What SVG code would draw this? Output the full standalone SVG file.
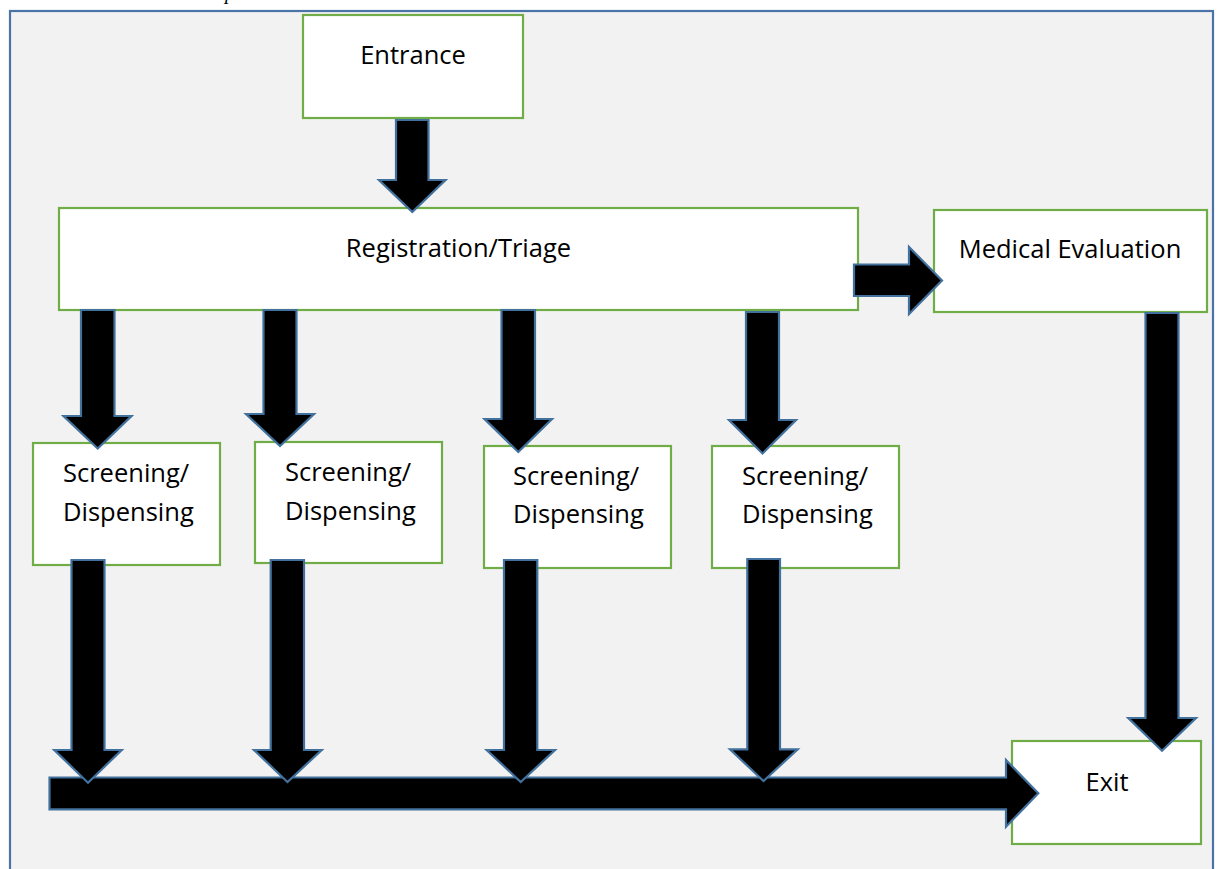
<svg xmlns="http://www.w3.org/2000/svg" width="1219" height="869" viewBox="0 0 1219 869">
<style>
.box{fill:#ffffff;stroke:#70ad47;stroke-width:2.2}
.lbl{font-family:"Open Sans","Noto Sans","DejaVu Sans",sans-serif;font-size:25.5px;fill:#000000}
.c{text-anchor:middle}
.arr{fill:#000000;stroke:#41719c;stroke-width:2.2;stroke-linejoin:miter}
</style>
<rect width="1219" height="869" fill="#ffffff"/>
<text x="225" y="-1" font-family="Liberation Serif, serif" font-style="italic" font-size="20" fill="#000">p</text>
<rect x="10" y="11" width="1203" height="880" fill="#f2f2f2" stroke="#4a74a8" stroke-width="2.2"/>

<g id="entrance">
<rect class="box" x="303" y="15" width="220" height="103"/>
<text class="lbl c" x="413" y="64">Entrance</text>
</g>
<g id="registration">
<rect class="box" x="59" y="208" width="799" height="102"/>
<text class="lbl c" x="458.5" y="257">Registration/Triage</text>
</g>
<g id="medical">
<rect class="box" x="934" y="210" width="273" height="102"/>
<text class="lbl c" x="1070" y="258">Medical Evaluation</text>
</g>
<g id="screening1">
<rect class="box" x="33" y="443" width="187" height="122"/>
<text class="lbl" x="63" y="482">Screening/</text>
<text class="lbl" x="63" y="521">Dispensing</text>
</g>
<g id="screening2">
<rect class="box" x="255" y="442" width="187" height="121"/>
<text class="lbl" x="285" y="481">Screening/</text>
<text class="lbl" x="285" y="520">Dispensing</text>
</g>
<g id="screening3">
<rect class="box" x="484" y="446" width="187" height="122"/>
<text class="lbl" x="513" y="485">Screening/</text>
<text class="lbl" x="513" y="523">Dispensing</text>
</g>
<g id="screening4">
<rect class="box" x="712" y="446" width="187" height="122"/>
<text class="lbl" x="742" y="485">Screening/</text>
<text class="lbl" x="742" y="523">Dispensing</text>
</g>
<g id="exit">
<rect class="box" x="1012" y="741" width="189" height="103"/>
<text class="lbl c" x="1107" y="791">Exit</text>
</g>

<g id="connectors">
<polygon class="arr" points="396,120 428.5,120 428.5,180 445.5,180 412.3,212 379,180 396,180"/>
<polygon class="arr" points="854,264.5 909,264.5 909,247 942,280.5 909,314 909,296 854,296"/>
<polygon class="arr" points="81,310 114.5,310 114.5,416 131.5,416 97.7,448.5 63.5,416 81,416"/>
<polygon class="arr" points="263.5,310 296.5,310 296.5,414 314,414 280,446 246,414 263.5,414"/>
<polygon class="arr" points="501.5,310 535,310 535,419 552,419 518.3,452 484.5,419 501.5,419"/>
<polygon class="arr" points="746,312 779,312 779,420 796,420 762.5,453.5 729,420 746,420"/>
<polygon class="arr" points="1145.5,313 1178.5,313 1178.5,718 1196,718 1162,750.7 1128.3,718 1145.5,718"/>
<polygon class="arr" points="49.5,777.5 1006,777.5 1006,760 1038.3,793.3 1006,826.7 1006,809.3 49.5,809.3"/>
<polygon class="arr" points="71.5,560 104.5,560 104.5,750 121.7,750 88,782.7 54.3,750 71.5,750"/>
<polygon class="arr" points="270.7,560 304,560 304,750 321.7,750 287.5,782 254,750 270.7,750"/>
<polygon class="arr" points="504,560 537.3,560 537.3,750 555,750 520.7,782 486.7,750 504,750"/>
<polygon class="arr" points="747.3,559 780,559 780,749.3 797.7,749.3 763.5,781 730,749.3 747.3,749.3"/>
</g>
</svg>
